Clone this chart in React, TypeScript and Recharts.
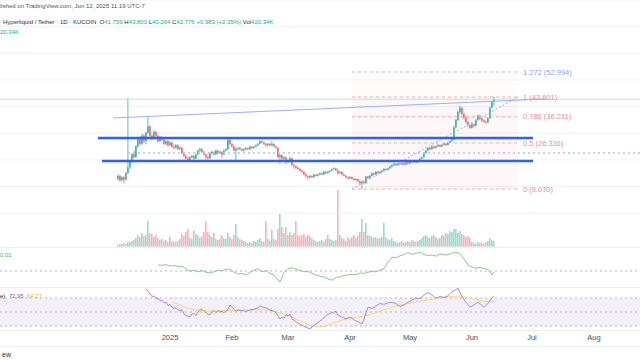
import React from 'react';
import {
  Bar,
  BarChart,
  CartesianGrid,
  Cell,
  ComposedChart,
  Line,
  LineChart,
  ReferenceArea,
  ReferenceLine,
  XAxis,
  YAxis,
} from 'recharts';

const FONT = "'Liberation Sans', Arial, sans-serif";
const UP = '#22ab94';
const DOWN = '#f7525f';
const VOL_UP = 'rgba(34,171,148,0.45)';
const VOL_DOWN = 'rgba(247,82,95,0.45)';
const X_DOMAIN: [number, number] = [-85, 235]; // days from 2025-01-01
const ZERO = { top: 0, right: 0, bottom: 0, left: 0 };

// daily candles [open, high, low, close], HYPE/USDT KuCoin, 6 Dec 2024 -> 12 Jun 2025
const dec = [
  [12.8, 14.6, 12.2, 14.0], [14.0, 14.3, 11.6, 12.4], [12.4, 13.9, 12.0, 13.5], [13.5, 13.8, 11.2, 12.6],
  [12.6, 15.5, 12.3, 15.1], [15.1, 43.3, 14.8, 17.2], [17.2, 19.8, 16.6, 19.2], [19.2, 22.6, 18.8, 22.1],
  [22.1, 23.4, 20.5, 21.0], [21.0, 25.6, 20.8, 25.1], [25.1, 28.6, 24.6, 28.0], [28.0, 29.0, 25.4, 26.0],
  [26.0, 29.8, 25.5, 29.1], [29.1, 29.6, 26.2, 27.0], [27.0, 30.6, 25.8, 30.2], [30.2, 36.1, 29.8, 32.6],
  [32.6, 33.0, 28.4, 29.0], [29.0, 29.6, 27.2, 28.0], [28.0, 31.2, 27.8, 30.5], [30.5, 31.0, 28.6, 29.1],
  [29.1, 29.5, 26.5, 27.0], [27.0, 29.0, 26.6, 28.5], [28.5, 28.9, 27.0, 27.5], [27.5, 27.9, 25.6, 26.0],
  [26.0, 27.6, 25.5, 27.0], [27.0, 27.4, 25.0, 25.5],
];
const jan = [
  [25.5, 27.0, 25.2, 26.5], [26.5, 26.9, 24.6, 25.0], [25.0, 25.6, 24.0, 24.5], [24.5, 26.0, 24.2, 25.5],
  [25.5, 25.8, 23.6, 24.0], [24.0, 25.2, 23.8, 24.5], [24.5, 24.9, 22.2, 22.5], [22.5, 23.0, 21.0, 21.5],
  [21.5, 22.0, 20.2, 20.5], [20.5, 21.2, 19.4, 20.0], [20.0, 21.4, 19.8, 21.0], [21.0, 21.9, 20.6, 21.5],
  [21.5, 21.8, 19.0, 20.5], [20.5, 22.4, 20.3, 22.0], [22.0, 23.9, 21.8, 23.5], [23.5, 24.6, 23.0, 24.0],
  [24.0, 24.4, 22.6, 23.0], [23.0, 23.4, 21.6, 22.0], [22.0, 22.5, 20.2, 21.0], [21.0, 22.0, 20.0, 20.6],
  [20.6, 22.9, 20.4, 22.5], [22.5, 23.4, 22.1, 23.0], [23.0, 23.3, 21.7, 22.0], [22.0, 23.9, 21.9, 23.5],
  [23.5, 23.8, 22.2, 22.5], [22.5, 23.4, 22.3, 23.0], [23.0, 23.2, 20.8, 22.0], [22.0, 23.8, 21.8, 23.5],
  [23.5, 24.4, 23.2, 24.0], [24.0, 28.6, 23.8, 27.5], [27.5, 27.8, 25.6, 26.0],
];
const feb = [
  [26.0, 26.3, 24.6, 25.0], [25.0, 25.3, 23.2, 23.5], [23.5, 24.6, 19.4, 24.2], [24.2, 24.9, 23.6, 24.5],
  [24.5, 24.8, 23.6, 24.0], [24.0, 24.3, 23.1, 23.5], [23.5, 24.4, 23.2, 24.0], [24.0, 24.8, 23.8, 24.5],
  [24.5, 24.7, 23.6, 24.0], [24.0, 25.4, 23.8, 25.0], [25.0, 25.2, 24.1, 24.5], [24.5, 25.3, 24.0, 25.0],
  [25.0, 25.8, 24.7, 25.5], [25.5, 26.3, 25.2, 26.0], [26.0, 27.6, 25.8, 27.0], [27.0, 27.3, 26.2, 26.5],
  [26.5, 26.9, 25.6, 26.0], [26.0, 26.4, 24.8, 25.5], [25.5, 26.3, 25.2, 26.0], [26.0, 26.4, 25.1, 25.5],
  [25.5, 27.2, 25.0, 26.0], [26.0, 26.2, 24.8, 25.0], [25.0, 25.3, 24.2, 24.5], [24.5, 24.8, 20.6, 21.0],
  [21.0, 22.2, 18.4, 21.8], [21.8, 22.0, 19.8, 20.5], [20.5, 21.4, 20.0, 21.0], [21.0, 21.2, 18.2, 19.5],
];
const mar = [
  [19.5, 20.0, 18.9, 19.2], [19.2, 21.2, 19.0, 20.6], [20.6, 20.9, 17.6, 18.0], [18.0, 18.5, 16.8, 17.6],
  [17.6, 18.0, 16.6, 17.0], [17.0, 17.5, 16.2, 16.6], [16.6, 17.0, 15.6, 16.0], [16.0, 16.3, 15.2, 15.5],
  [15.5, 15.8, 14.2, 14.5], [14.5, 14.9, 13.4, 13.8], [13.8, 14.1, 12.4, 13.4], [13.4, 14.3, 13.1, 14.0],
  [14.0, 14.2, 13.2, 13.5], [13.5, 14.8, 13.3, 14.5], [14.5, 14.7, 13.8, 14.0], [14.0, 14.8, 13.8, 14.5],
  [14.5, 15.3, 14.3, 15.0], [15.0, 15.2, 14.2, 14.5], [14.5, 15.8, 14.3, 15.5], [15.5, 15.7, 14.8, 15.0],
  [15.0, 15.8, 14.8, 15.5], [15.5, 16.2, 15.3, 16.0], [16.0, 16.8, 15.8, 16.5], [16.5, 17.2, 16.1, 16.8],
  [16.8, 17.0, 15.8, 16.0], [16.0, 16.4, 14.6, 15.0], [15.0, 15.8, 14.8, 15.5], [15.5, 15.7, 14.3, 14.5],
  [14.5, 14.8, 13.8, 14.0], [14.0, 14.3, 13.2, 13.5], [13.5, 13.8, 12.8, 13.0],
];
const apr = [
  [13.0, 13.9, 12.8, 13.5], [13.5, 13.8, 12.6, 13.0], [13.0, 13.2, 12.2, 12.5], [12.5, 13.1, 12.1, 12.8],
  [12.8, 12.9, 11.8, 12.0], [12.0, 12.2, 11.0, 11.2], [11.2, 12.2, 9.07, 11.8], [11.8, 12.3, 11.0, 11.3],
  [11.3, 14.0, 11.0, 13.8], [13.8, 14.0, 12.8, 13.2], [13.2, 14.3, 13.0, 14.0], [14.0, 15.3, 13.8, 15.0],
  [15.0, 15.2, 14.2, 14.5], [14.5, 15.8, 14.3, 15.5], [15.5, 15.7, 14.8, 15.0], [15.0, 15.8, 14.8, 15.5],
  [15.5, 16.2, 15.3, 16.0], [16.0, 16.9, 15.8, 16.6], [16.6, 16.8, 16.0, 16.2], [16.2, 17.0, 16.0, 16.8],
  [16.8, 17.8, 16.6, 17.5], [17.5, 18.4, 17.2, 18.1], [18.1, 18.9, 17.9, 18.6], [18.6, 18.8, 17.7, 18.0],
  [18.0, 18.9, 17.8, 18.6], [18.6, 18.9, 18.0, 18.3], [18.3, 19.0, 18.1, 18.8], [18.8, 19.0, 17.9, 18.2],
  [18.2, 19.2, 18.0, 19.0], [19.0, 19.3, 18.2, 18.6],
];
const may = [
  [18.6, 19.8, 18.4, 19.5], [19.5, 19.8, 18.8, 19.1], [19.1, 19.9, 18.9, 19.6], [19.6, 19.8, 18.8, 19.0],
  [19.0, 19.8, 18.8, 19.6], [19.6, 20.8, 19.4, 20.5], [20.5, 21.3, 20.2, 21.0], [21.0, 22.9, 20.8, 22.6],
  [22.6, 23.8, 22.3, 23.5], [23.5, 24.8, 23.2, 24.5], [24.5, 24.8, 23.6, 24.0], [24.0, 25.4, 23.8, 25.0],
  [25.0, 25.3, 24.2, 24.5], [24.5, 25.4, 24.3, 25.1], [25.1, 25.9, 24.9, 25.6], [25.6, 25.8, 24.7, 25.0],
  [25.0, 25.9, 24.8, 25.6], [25.6, 26.4, 25.4, 26.1], [26.1, 26.3, 25.2, 25.6], [25.6, 26.8, 25.4, 26.5],
  [26.5, 27.3, 26.2, 27.0], [27.0, 28.0, 26.8, 27.6], [27.6, 32.6, 27.4, 32.2], [32.2, 35.4, 31.8, 35.0],
  [35.0, 38.5, 34.6, 38.0], [38.0, 40.4, 37.2, 39.5], [39.5, 39.8, 36.6, 37.2], [37.2, 37.6, 35.2, 35.8],
  [35.8, 36.2, 33.6, 34.2], [34.2, 34.6, 32.5, 33.0], [33.0, 33.4, 31.6, 32.0],
];
const jun = [
  [32.0, 33.8, 31.8, 33.4], [33.4, 33.7, 32.2, 32.8], [32.8, 35.4, 32.6, 35.0], [35.0, 37.0, 34.8, 36.6],
  [36.6, 36.9, 35.0, 35.4], [35.4, 35.8, 34.2, 34.8], [34.8, 35.2, 33.8, 34.3], [34.3, 34.6, 33.6, 34.0],
  [34.0, 36.0, 33.8, 35.6], [35.6, 39.9, 35.4, 39.6], [39.6, 42.2, 39.3, 41.76], [41.759, 43.8, 40.264, 42.776],
];

// daily volume, thousands of HYPE
const volDec = [140, 210, 210, 280, 210, 350, 350, 420, 490, 630, 840, 700, 980, 770, 840, 1820, 980, 910, 700, 840, 630, 490, 560, 420, 490, 350];
const volJan = [700, 420, 350, 350, 420, 560, 910, 770, 1050, 1260, 630, 560, 1120, 910, 840, 630, 770, 1050, 1820, 1050, 840, 700, 980, 560, 490, 560, 840, 630, 560, 980, 700];
const volFeb = [560, 840, 1610, 700, 560, 490, 420, 350, 280, 350, 280, 420, 350, 490, 630, 420, 350, 1820, 560, 420, 1190, 560, 490, 1260, 2310, 1400, 980, 1400];
const volMar = [840, 1050, 840, 980, 1820, 840, 770, 840, 910, 700, 840, 770, 630, 490, 420, 350, 420, 490, 350, 560, 840, 560, 490, 420, 490, 3990, 840, 630, 560, 420, 700];
const volApr = [560, 700, 840, 630, 770, 1050, 1960, 1050, 1680, 840, 770, 700, 630, 700, 560, 630, 700, 1680, 700, 560, 490, 630, 420, 350, 280, 350, 420, 280, 350, 420];
const volMay = [350, 490, 420, 350, 420, 490, 630, 770, 840, 700, 630, 770, 840, 700, 560, 630, 840, 770, 980, 910, 1120, 1050, 1260, 1260, 980, 1120, 910, 840, 700, 770, 630];
const volJun = [350, 280, 210, 350, 280, 280, 210, 350, 420, 630, 490, 420];

// lower indicator pane (green), [day, value]
const flowLine = [
  [-6, 0.03], [-4, 0.028], [-2, 0.032], [0, 0.025], [2, 0.027], [4, 0.022], [6, 0.024], [8, 0.01], [10, -0.002],
  [12, 0.004], [14, -0.004], [16, 0.002], [18, -0.006], [20, -0.01], [22, -0.004], [24, 0.004], [26, 0.002],
  [28, 0.01], [30, 0.006], [32, -0.006], [34, -0.015], [36, -0.012], [38, -0.02], [40, -0.008], [42, 0.004],
  [44, 0.012], [46, -0.004], [48, 0.002], [50, -0.012], [52, -0.02], [54, -0.045], [55, -0.055], [57, -0.008],
  [59, 0.012], [61, 0.016], [63, 0.008], [65, 0.004], [67, -0.004], [69, -0.002], [71, -0.012], [73, -0.02],
  [75, -0.026], [77, -0.03], [79, -0.04], [81, -0.046], [83, -0.032], [85, -0.03], [87, -0.022], [89, -0.02],
  [91, -0.016], [93, -0.018], [95, -0.01], [97, -0.012], [99, -0.006], [101, -0.002], [103, -0.004], [105, 0.004],
  [107, 0.012], [109, 0.045], [111, 0.07], [113, 0.066], [115, 0.076], [117, 0.082], [119, 0.092], [121, 0.084],
  [123, 0.088], [125, 0.094], [127, 0.082], [129, 0.078], [131, 0.08], [133, 0.074], [135, 0.085], [137, 0.08],
  [139, 0.082], [141, 0.09], [143, 0.094], [145, 0.086], [147, 0.06], [149, 0.03], [151, 0.02], [153, 0.014],
  [155, 0.018], [157, 0.012], [159, 0.008], [161, -0.02], [162, -0.004],
];

// RSI 14 and its moving average, [day, value]
const rsiLine = [
  [-12, 83], [-11, 80], [-10, 76], [-9, 72], [-8, 73], [-7, 69], [-6, 70], [-5, 66], [-4, 67], [-3, 63], [-2, 64],
  [-1, 59], [0, 61], [1, 57], [2, 55], [3, 56], [4, 53], [5, 52], [6, 53], [7, 47], [8, 45], [9, 44], [10, 43],
  [11, 47], [12, 48], [13, 45], [14, 50], [15, 53], [16, 54], [17, 51], [18, 49], [19, 47], [20, 46], [21, 50],
  [22, 52], [23, 49], [24, 52], [25, 50], [26, 51], [27, 49], [28, 52], [29, 53], [30, 60], [31, 57], [32, 54],
  [33, 51], [34, 53], [36, 52], [38, 51], [40, 53], [42, 54], [44, 56], [45, 59], [46, 57], [48, 56], [50, 53],
  [52, 51], [53, 49], [55, 40], [56, 43], [57, 41], [58, 46], [59, 44], [60, 47], [61, 40], [62, 38], [64, 34],
  [66, 31], [68, 28], [70, 26], [72, 31], [74, 35], [76, 39], [78, 45], [80, 48], [82, 50], [83, 51], [84, 45],
  [86, 43], [88, 40], [90, 43], [92, 39], [94, 36], [96, 33], [97, 40], [99, 57], [101, 55], [103, 59], [105, 62],
  [107, 61], [109, 63], [111, 64], [113, 62], [115, 58], [117, 60], [119, 64], [121, 67], [123, 70], [125, 69],
  [127, 74], [129, 78], [131, 74], [133, 70], [135, 72], [137, 71], [139, 73], [141, 79], [143, 82], [144, 84],
  [146, 72], [148, 64], [150, 57], [152, 60], [154, 64], [155, 62], [157, 57], [159, 62], [160, 67], [161, 70],
  [162, 72.95],
];
const rsiMa = [
  [1, 64.3], [5, 60], [9, 55], [13, 53], [20, 51.5], [30, 52.5], [38, 53], [47, 53], [52, 51], [58, 46], [62, 41],
  [66, 36], [70, 31], [74, 28.6], [78, 30], [81, 34], [86, 38.5], [91, 41.4], [95, 43], [99, 45.7], [105, 51],
  [111, 57], [117, 61], [123, 64.3], [129, 67.5], [135, 70], [140, 71.8], [144, 72.9], [148, 71], [152, 68],
  [156, 66], [160, 64.5], [162, 64.27],
];

// drawings on the price pane
const fibLevels = [0, 0.5, 0.786, 1, 1.272];
const fibPrices = [9.07, 26.336, 36.211, 43.601, 52.994];
const fibFrom = 91;
const fibTo = 174;
const supportLevels = [28.21, 19.58];
const lastClose = 42.776;

const monthTicks = [0, 31, 59, 90, 120, 151, 181, 212];
const monthLabels = ['2025', 'Feb', 'Mar', 'Apr', 'May', 'Jun', 'Jul', 'Aug'];

const ohlc = [...dec, ...jan, ...feb, ...mar, ...apr, ...may, ...jun];
const vols = [...volDec, ...volJan, ...volFeb, ...volMar, ...volApr, ...volMay, ...volJun];
const candles = ohlc.map((c, i) => ({ t: i - 26, open: c[0], high: c[1], low: c[2], close: c[3], vol: vols[i] }));
const flowData = flowLine.map(([t, v]) => ({ t, v }));
const rsiData = rsiLine.map(([t, v]) => ({ t, rsi: v }));
const maData = rsiMa.map(([t, v]) => ({ t, ma: v }));

const Candle = (props: any) => {
  const { x, y, width, height, payload } = props;
  if (!payload) return null;
  const { open, high, low, close } = payload;
  const top = Math.min(y, y + height);
  const span = Math.abs(height);
  const py = (v: number) => (high === low ? top : top + ((high - v) / (high - low)) * span);
  const color = close >= open ? UP : DOWN;
  const cx = x + width / 2;
  const bTop = py(Math.max(open, close));
  const bBot = py(Math.min(open, close));
  return (
    <g opacity={0.9}>
      <line x1={cx} x2={cx} y1={top} y2={top + span} stroke={color} strokeWidth={0.8} />
      <rect x={cx - 0.75} y={bTop} width={1.5} height={Math.max(0.8, bBot - bTop)} fill={color} />
    </g>
  );
};

const sep = (top: number) => (
  <div style={{ position: 'absolute', left: 0, top, width: 640, height: 1, background: '#eceef2' }} />
);

export default function App() {
  return (
    <div style={{ position: 'absolute', left: 0, top: 0, width: 640, height: 360, background: '#fff', overflow: 'hidden', fontFamily: FONT }}>
      {/* volume */}
      <div style={{ position: 'absolute', left: 0, top: 0 }}>
        <BarChart width={640} height={247} data={candles} margin={ZERO}>
          <XAxis type="number" dataKey="t" domain={X_DOMAIN} hide allowDataOverflow />
          <YAxis domain={[0, 17290]} hide allowDataOverflow />
          <Bar dataKey="vol" barSize={1.6} isAnimationActive={false}>
            {candles.map((c) => (
              <Cell key={c.t} fill={c.close >= c.open ? VOL_UP : VOL_DOWN} />
            ))}
          </Bar>
        </BarChart>
      </div>

      {/* price */}
      <div style={{ position: 'absolute', left: 0, top: 0 }}>
        <ComposedChart width={640} height={247} data={candles} margin={ZERO}>
          <XAxis type="number" dataKey="t" domain={X_DOMAIN} hide allowDataOverflow />
          <YAxis domain={[-12.7, 80]} ticks={[0, 10, 20, 30, 40, 50, 60, 70]} hide allowDataOverflow />
          <CartesianGrid vertical={false} stroke="#f0f2f6" />
          <ReferenceArea x1={fibFrom} x2={fibTo} y1={fibPrices[0]} y2={fibPrices[3]} fill="#f23645" fillOpacity={0.04} stroke="none" />
          <ReferenceArea x1={fibFrom} x2={fibTo} y1={fibPrices[3]} y2={fibPrices[4]} fill="#f23645" fillOpacity={0.015} stroke="none" />
          <ReferenceLine y={lastClose} stroke="#b8e3dc" strokeWidth={1} />
          {fibLevels.map((lv, i) => (
            <ReferenceLine
              key={lv}
              segment={[{ x: fibFrom, y: fibPrices[i] }, { x: fibTo, y: fibPrices[i] }]}
              stroke={lv === 1.272 ? '#b4bff5' : '#f6a9ae'}
              strokeDasharray="3 3"
              strokeWidth={1}
              label={{
                value: `${lv} (${fibPrices[i].toFixed(3)})`,
                position: 'right',
                offset: 5,
                fill: lv === 1.272 ? '#8b9ef0' : '#f08a92',
                fontSize: 7.5,
              }}
            />
          ))}
          <ReferenceLine
            segment={[{ x: fibFrom, y: fibPrices[0] }, { x: fibTo, y: fibPrices[3] }]}
            stroke="#9aaef5"
            strokeDasharray="2 2"
            strokeWidth={1}
          />
          <ReferenceLine segment={[{ x: -21, y: 22.58 }, { x: 235, y: 22.58 }]} stroke="#b9bef3" strokeDasharray="2 3" strokeWidth={1.5} />
          <ReferenceLine segment={[{ x: -28.5, y: 35.71 }, { x: 187.5, y: 42.84 }]} stroke="#9cb0f4" strokeWidth={1} />
          <ReferenceLine segment={[{ x: -36, y: supportLevels[0] }, { x: 181.5, y: supportLevels[0] }]} stroke="#2962ff" strokeWidth={2.5} />
          <ReferenceLine segment={[{ x: -34, y: supportLevels[1] }, { x: 181.5, y: supportLevels[1] }]} stroke="#2962ff" strokeWidth={2.5} />
          <Bar dataKey={(d: any) => [d.low, d.high]} shape={Candle} barSize={2} isAnimationActive={false} />
        </ComposedChart>
      </div>

      {sep(247)}

      {/* green indicator */}
      <div style={{ position: 'absolute', left: 0, top: 248 }}>
        <LineChart width={640} height={40} data={flowData} margin={ZERO}>
          <XAxis type="number" dataKey="t" domain={X_DOMAIN} hide allowDataOverflow />
          <YAxis domain={[-0.085, 0.115]} hide allowDataOverflow />
          <ReferenceLine y={0} stroke="#b2b5be" strokeDasharray="2 3" />
          <Line dataKey="v" stroke="#7cc47f" strokeWidth={0.9} dot={false} isAnimationActive={false} />
        </LineChart>
      </div>

      {sep(287)}

      {/* RSI */}
      <div style={{ position: 'absolute', left: 0, top: 288 }}>
        <ComposedChart width={640} height={60} margin={ZERO}>
          <XAxis
            type="number"
            dataKey="t"
            domain={X_DOMAIN}
            allowDataOverflow
            ticks={monthTicks}
            tickFormatter={(v: number) => monthLabels[monthTicks.indexOf(v)]}
            axisLine={false}
            tickLine={false}
            tickSize={5}
            tickMargin={0}
            height={18}
            tick={{ fontSize: 7.5, fill: '#4a4d57', fontFamily: FONT }}
          />
          <YAxis domain={[24.3, 84.3]} hide allowDataOverflow />
          <ReferenceArea y1={30} y2={70} fill="#7e57c2" fillOpacity={0.09} stroke="none" />
          <ReferenceLine y={70} stroke="#b2b5be" strokeDasharray="2 3" />
          <ReferenceLine y={50} stroke="#b2b5be" strokeDasharray="2 3" />
          <ReferenceLine y={30} stroke="#b2b5be" strokeDasharray="2 3" />
          <Line data={maData} dataKey="ma" stroke="#fbd96a" strokeWidth={1} dot={false} isAnimationActive={false} />
          <Line data={rsiData} dataKey="rsi" stroke="#9a7fd6" strokeWidth={0.9} dot={false} isAnimationActive={false} />
        </ComposedChart>
      </div>

      {sep(330)}
      {sep(346)}

      {/* legends */}
      <div style={{ position: 'absolute', left: 0, top: 3, fontSize: 6, color: '#50535e', whiteSpace: 'nowrap' }}>
        lished on TradingView.com, Jun 12, 2025 11:19 UTC-7
      </div>
      <div style={{ position: 'absolute', left: 3, top: 19, fontSize: 6, color: '#2a2e39', whiteSpace: 'nowrap' }}>
        Hyperliquid / Tether · 1D · KUCOIN&nbsp;&nbsp;O<span style={{ color: UP }}>41.759</span>&nbsp;H
        <span style={{ color: UP }}>43.800</span>&nbsp;L<span style={{ color: UP }}>40.264</span>&nbsp;C
        <span style={{ color: UP }}>42.776</span>&nbsp;<span style={{ color: UP }}>+0.983 (+2.35%)</span>&nbsp;Vol
        <span style={{ color: UP }}>420.34K</span>
      </div>
      <div style={{ position: 'absolute', left: 0, top: 29, fontSize: 6, color: UP, whiteSpace: 'nowrap' }}>20.34K</div>
      <div style={{ position: 'absolute', left: 0, top: 252, fontSize: 6, color: '#4caf50', whiteSpace: 'nowrap' }}>0.01</div>
      <div style={{ position: 'absolute', left: 0, top: 293, fontSize: 6, color: '#2a2e39', whiteSpace: 'nowrap' }}>
        e)&nbsp;&nbsp;<span style={{ color: '#7e57c2' }}>72.95</span>&nbsp;&nbsp;<span style={{ color: '#e8b923' }}>64.27</span>
      </div>
      <div style={{ position: 'absolute', left: 2, top: 351, fontSize: 7, color: '#2a2e39', whiteSpace: 'nowrap' }}>ew</div>
    </div>
  );
}
